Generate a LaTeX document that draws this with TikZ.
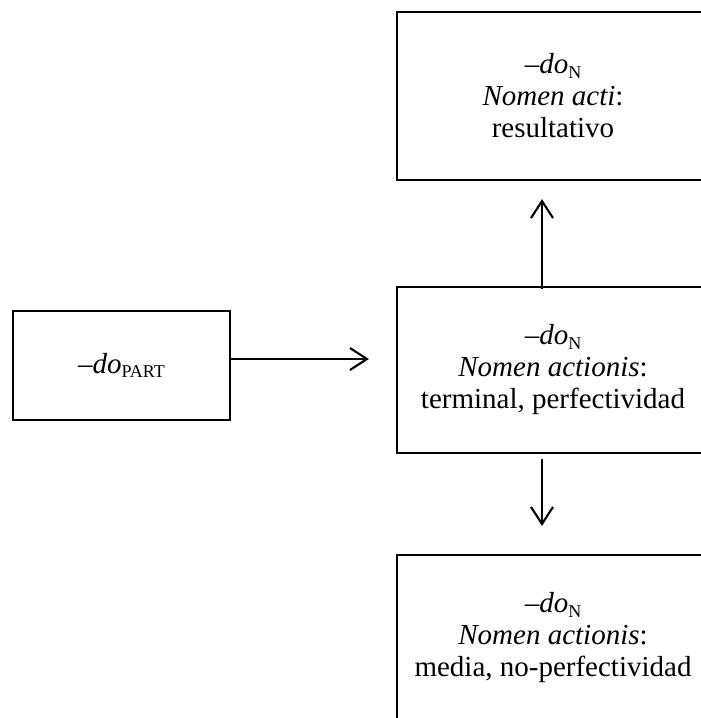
\documentclass[tikz,border=0pt]{standalone}
\usepackage{fontspec}
\setmainfont{Liberation Serif}
\usetikzlibrary{arrows.meta}
\newcommand\lowsub[1]{\raisebox{-0.16em}{\fontsize{18pt}{18pt}\selectfont #1}}
\tikzset{
  box/.style={draw, line width=2.2pt, rectangle, inner sep=0pt, align=center,
    font=\fontsize{29pt}{32pt}\selectfont},
  arr/.style={line width=2.1pt, -{Straight Barb[length=17pt,width=22pt]}}
}
\begin{document}
\begin{tikzpicture}[x=1pt,y=1pt]
\useasboundingbox (0,0) rectangle (701,-718);
\begin{scope}
\clip (0,0) rectangle (701,-718);
\node[box, minimum width=312pt, minimum height=168pt] (tb) at (553,-96)
  {–\textit{do}\lowsub{N}\\ \textit{Nomen acti}:\\ resultativo};
\node[box, minimum width=312pt, minimum height=166pt] (mb) at (553,-370)
  {–\textit{do}\lowsub{N}\\ \textit{Nomen actionis}:\\ terminal, perfectividad};
\node[box, minimum width=312pt, minimum height=166pt] (bb) at (553,-638)
  {–\textit{do}\lowsub{N}\\ \textit{Nomen actionis}:\\ media, no-perfectividad};
\end{scope}
\node[box, minimum width=217pt, minimum height=109pt] (lb) at (121.5,-365.5)
  {\raisebox{-2pt}{–\textit{do}\lowsub{PART}}};
\draw[arr, shorten >=27pt] ([yshift=6.5pt]lb.east) -- ([yshift=6.5pt]lb.east -| mb.west);
\draw[arr, shorten >=18pt, shorten <=-3pt] ([xshift=-11pt]mb.north) -- ([xshift=-11pt]mb.north |- tb.south);
\draw[arr, shorten <=5pt, shorten >=28pt] ([xshift=-11pt]mb.south) -- ([xshift=-11pt]mb.south |- bb.north);
\end{tikzpicture}
\end{document}
